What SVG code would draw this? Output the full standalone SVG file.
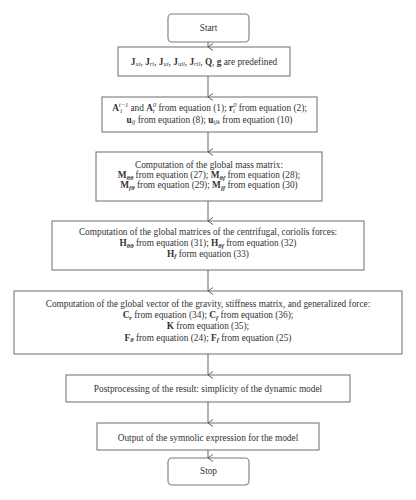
<svg xmlns="http://www.w3.org/2000/svg" width="416" height="500" viewBox="0 0 416 500">
<defs>
<marker id="arr" markerWidth="8" markerHeight="6" refX="4" refY="5.5" orient="auto-start-reverse" markerUnits="userSpaceOnUse" viewBox="0 0 8 6">
<path d="M0.5,0.5 L4,5.5 L7.5,0.5" fill="none" stroke="#555" stroke-width="0.9"/>
</marker>
<style>
.box{fill:#fff;stroke:#7a7a7a;stroke-width:1.1}
.t{font-family:"Liberation Serif","Times New Roman",serif;font-size:9.3px;fill:#333;text-anchor:middle}
.b{font-weight:bold}
.s{font-size:6.5px;font-style:italic}
.bs{font-size:6.5px;font-style:italic;font-weight:bold}
.c line{stroke:#555;stroke-width:0.9;marker-end:url(#arr)}
</style>
</defs>
<rect width="416" height="500" fill="#fff"/>
<g id="start"><rect class="box" x="168" y="14" width="81" height="28" rx="4"/><text class="t" x="208.5" y="31">Start</text></g>
<g id="predef"><rect class="box" x="118" y="47" width="172" height="29"/>
<text class="t" x="204" y="64.5"><tspan class="b">J</tspan><tspan class="s" dy="1.8">ui</tspan><tspan dy="-1.8">, </tspan><tspan class="b">J</tspan><tspan class="s" dy="1.8">ri</tspan><tspan dy="-1.8">, </tspan><tspan class="b">J</tspan><tspan class="s" dy="1.8">ui</tspan><tspan dy="-1.8">, </tspan><tspan class="b">J</tspan><tspan class="s" dy="1.8">uil</tspan><tspan dy="-1.8">, </tspan><tspan class="b">J</tspan><tspan class="s" dy="1.8">ril</tspan><tspan dy="-1.8">, </tspan><tspan class="b">Q</tspan>, <tspan class="b">g</tspan> are predefined</text></g>
<g id="transforms"><rect class="box" x="102" y="97" width="215" height="35"/>
<text class="t" x="209.5" y="110.5"><tspan class="b">A</tspan><tspan class="s" dy="-3.5">i−1</tspan><tspan class="s" dx="-8" dy="6">i</tspan><tspan dx="6" dy="-2.5"> and </tspan><tspan class="b">A</tspan><tspan class="s" dy="-3.5">0</tspan><tspan class="s" dx="-3.3" dy="6">i</tspan><tspan dx="1.5" dy="-2.5"> from equation (1); </tspan><tspan class="b">r</tspan><tspan class="s" dy="-3.5">0</tspan><tspan class="s" dx="-3.3" dy="6">i</tspan><tspan dx="1.5" dy="-2.5"> from equation (2);</tspan></text>
<text class="t" x="209.5" y="122.5"><tspan class="b">u</tspan><tspan class="s" dy="1.8">ij</tspan><tspan dy="-1.8"> from equation (8); </tspan><tspan class="b">u</tspan><tspan class="s" dy="1.8">ijk</tspan><tspan dy="-1.8"> from equation (10)</tspan></text></g>
<g id="mass"><rect class="box" x="96" y="152" width="226" height="49"/>
<text class="t" x="209" y="168">Computation of the global mass matrix:</text>
<text class="t" x="209" y="178"><tspan class="b">M</tspan><tspan class="bs" dy="1.8">θθ</tspan><tspan dy="-1.8"> from equation (27); </tspan><tspan class="b">M</tspan><tspan class="bs" dy="1.8">θf</tspan><tspan dy="-1.8"> from equation (28);</tspan></text>
<text class="t" x="209" y="188"><tspan class="b">M</tspan><tspan class="bs" dy="1.8">fθ</tspan><tspan dy="-1.8"> from equation (29); </tspan><tspan class="b">M</tspan><tspan class="bs" dy="1.8">ff</tspan><tspan dy="-1.8"> from equation (30)</tspan></text></g>
<g id="centrifugal"><rect class="box" x="52" y="221" width="312" height="49"/>
<text class="t" x="208" y="235">Computation of the global matrices of the centrifugal, coriolis forces:</text>
<text class="t" x="208" y="246"><tspan class="b">H</tspan><tspan class="bs" dy="1.8">θθ</tspan><tspan dy="-1.8"> from equation (31); </tspan><tspan class="b">H</tspan><tspan class="bs" dy="1.8">θf</tspan><tspan dy="-1.8"> from equation (32)</tspan></text>
<text class="t" x="208" y="256.5"><tspan class="b">H</tspan><tspan class="bs" dy="1.8">f</tspan><tspan dy="-1.8"> form equation (33)</tspan></text></g>
<g id="gravity"><rect class="box" x="14" y="291" width="388" height="63"/>
<text class="t" x="208" y="306.5">Computation of the global vector of the gravity, stiffness matrix, and generalized force:</text>
<text class="t" x="208" y="318"><tspan class="b">C</tspan><tspan class="bs" dy="1.8">r</tspan><tspan dy="-1.8"> from equation (34); </tspan><tspan class="b">C</tspan><tspan class="bs" dy="1.8">f</tspan><tspan dy="-1.8"> from equation (36);</tspan></text>
<text class="t" x="208" y="329"><tspan class="b">K</tspan> from equation (35);</text>
<text class="t" x="208" y="340.5"><tspan class="b">F</tspan><tspan class="bs" dy="1.8">θ</tspan><tspan dy="-1.8"> from equation (24); </tspan><tspan class="b">F</tspan><tspan class="bs" dy="1.8">f</tspan><tspan dy="-1.8"> from equation (25)</tspan></text></g>
<g id="postprocessing"><rect class="box" x="66" y="375" width="284" height="27"/>
<text class="t" x="208" y="391.5">Postprocessing of the result: simplicity of the dynamic model</text></g>
<g id="output"><rect class="box" x="97" y="423" width="222" height="27"/>
<text class="t" x="208" y="440.5">Output of the symnolic expression for the model</text></g>
<g id="stop"><rect class="box" x="168" y="458" width="81" height="27" rx="4"/><text class="t" x="208.5" y="474">Stop</text></g>
<g id="connectors" class="c">
<line x1="208" y1="42" x2="208" y2="47"/>
<line x1="208" y1="76" x2="208" y2="97"/>
<line x1="208" y1="132" x2="208" y2="152"/>
<line x1="208" y1="201" x2="208" y2="221"/>
<line x1="208" y1="270" x2="208" y2="291"/>
<line x1="208" y1="354" x2="208" y2="375"/>
<line x1="208" y1="402" x2="208" y2="423"/>
<line x1="208" y1="450" x2="208" y2="458"/>
</g>
</svg>
